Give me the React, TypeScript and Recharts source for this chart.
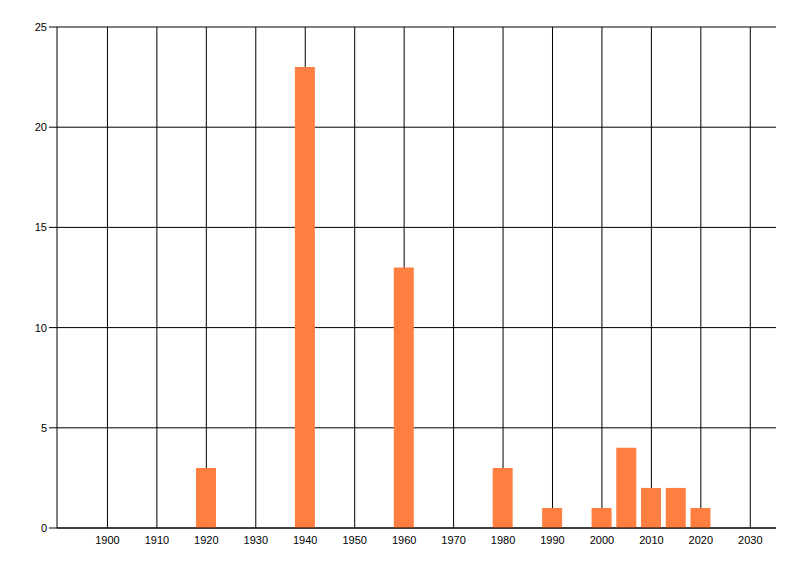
import { Bar, BarChart, CartesianGrid, XAxis, YAxis } from "recharts";

const years = [1920, 1940, 1960, 1980, 1990, 2000, 2005, 2010, 2015, 2020];
const counts = [3, 23, 13, 3, 1, 1, 4, 2, 2, 1];
const xTicks = [1900, 1910, 1920, 1930, 1940, 1950, 1960, 1970, 1980, 1990, 2000, 2010, 2020, 2030];
const yTicks = [0, 5, 10, 15, 20, 25];

const data = years.map((year, i) => ({ year, count: counts[i] }));

const tickStyle = { fontSize: 11, fill: "#000", fontFamily: "Liberation Sans, Arial, sans-serif" };

export default function App() {
  return (
    <div style={{ position: "absolute", left: 0, top: 0, background: "#fff" }}>
      <BarChart
        width={800}
        height={576}
        data={data}
        margin={{ top: 27, right: 24, left: 0, bottom: 0 }}
      >
        <CartesianGrid stroke="#000" strokeWidth={1} syncWithTicks />
        <XAxis
          type="number"
          dataKey="year"
          domain={[1889.8, 2035.2]}
          allowDataOverflow
          ticks={xTicks}
          interval={0}
          tickLine={false}
          axisLine={{ stroke: "#000" }}
          tick={tickStyle}
          height={48}
        />
        <YAxis
          domain={[0, 25]}
          ticks={yTicks}
          interval={0}
          width={57}
          tickSize={8}
          tickLine={{ stroke: "#000" }}
          axisLine={{ stroke: "#000" }}
          tick={tickStyle}
        />
        <Bar dataKey="count" fill="#FF7F40" barSize={20} isAnimationActive={false} />
      </BarChart>
    </div>
  );
}
